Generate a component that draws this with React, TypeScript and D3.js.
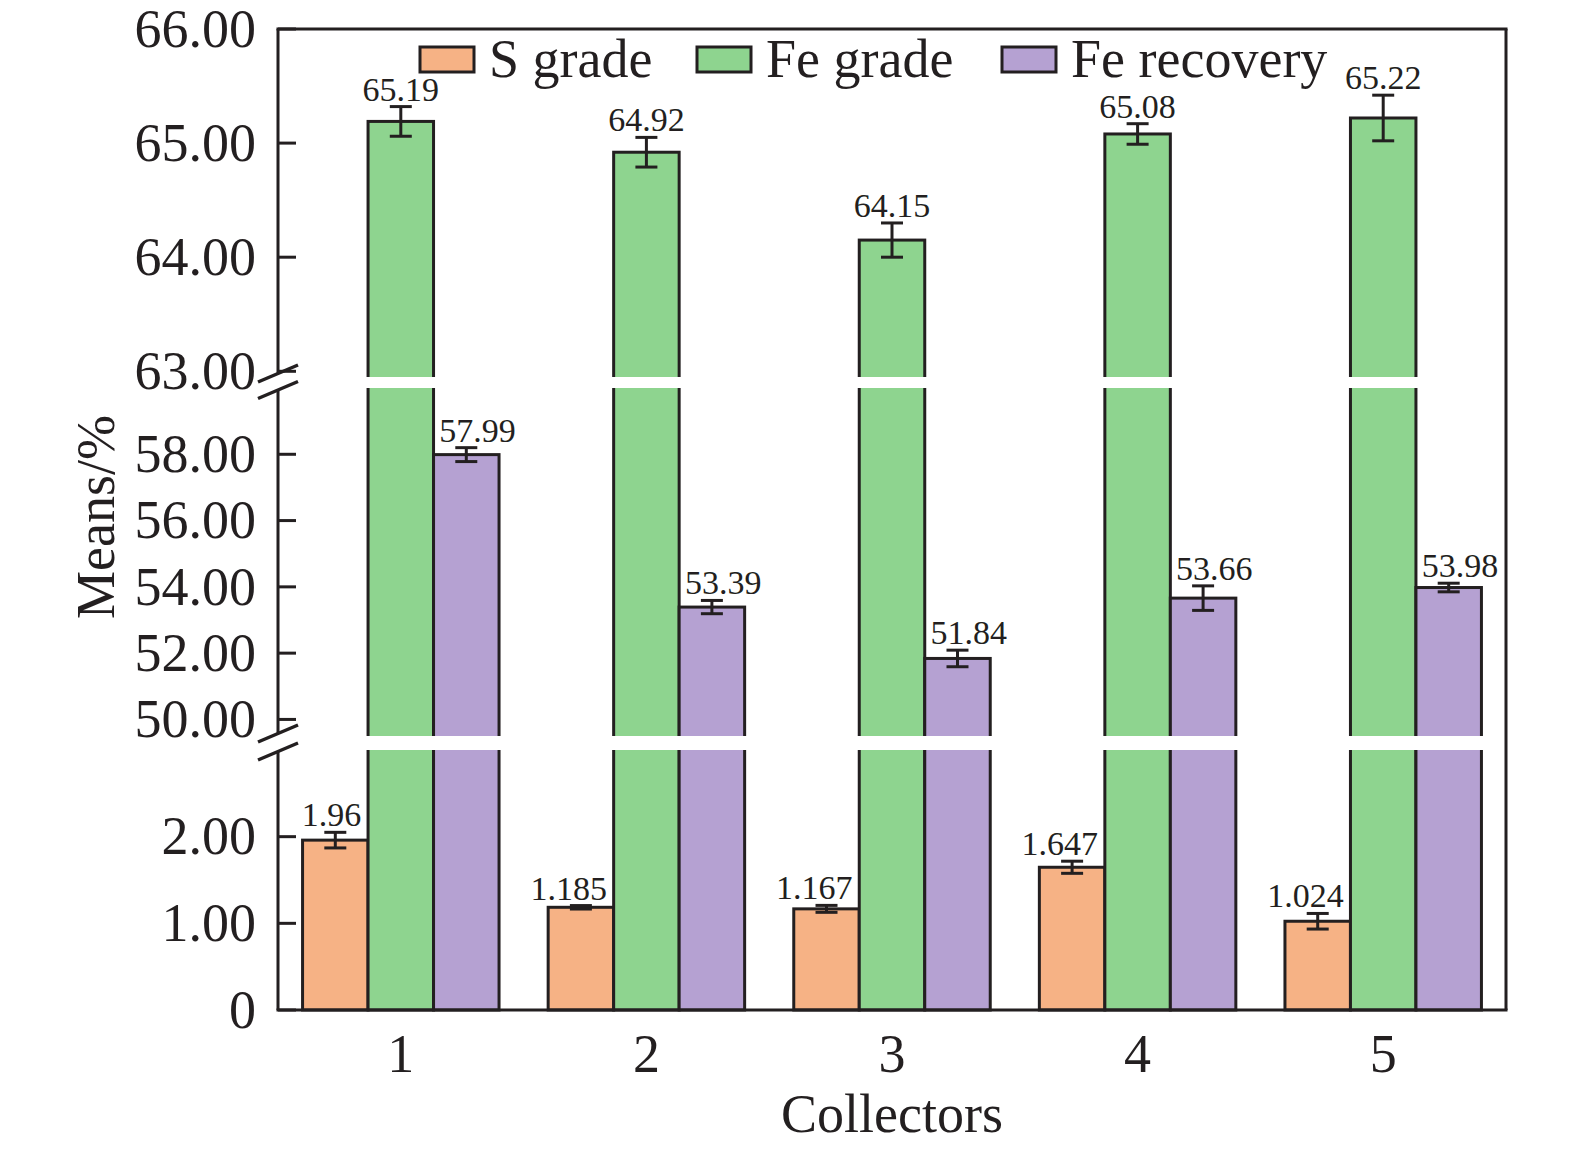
import { useEffect, useRef } from 'react';
import * as d3 from 'd3';

// data
const categories = ['1', '2', '3', '4', '5'];
const seriesNames = ['S grade', 'Fe grade', 'Fe recovery'];
const sGrade = [1.96, 1.185, 1.167, 1.647, 1.024];
const feGrade = [65.19, 64.92, 64.15, 65.08, 65.22];
const feRecovery = [57.99, 53.39, 51.84, 53.66, 53.98];
const sGradeErr = [0.09, 0.02, 0.04, 0.07, 0.09];
const feGradeErr = [0.13, 0.13, 0.15, 0.09, 0.2];
const feRecoveryErr = [0.21, 0.2, 0.25, 0.37, 0.13];
const lowTicks = [0, 1, 2];
const midTicks = [50, 52, 54, 56, 58];
const highTicks = [63, 64, 65, 66];
const colors = ['#F6B285', '#8ED48F', '#B5A1D2'];

const W = 1575;
const H = 1154;
const INK = '#231F20';
const FONT = '"Liberation Serif", "Times New Roman", serif';

const App: React.FC = () => {
  const ref = useRef<SVGSVGElement>(null);

  useEffect(() => {
    const left = 278, right = 1506, top = 29, bottom = 1010;

    // three stacked segments of the broken y axis
    const low = d3.scaleLinear().domain([0, 3]).range([bottom, 750]);
    const mid = d3.scaleLinear().domain([49.5, 60]).range([736, 388]);
    const high = d3.scaleLinear().domain([62.95, 66]).range([377, top]);
    const y = (v: number) => (v <= 3 ? low(v) : v <= 60 ? mid(v) : high(v));
    const gaps = [
      [750, 736],
      [388, 377],
    ];

    const x0 = d3.scaleBand().domain(categories).range([left, right]).paddingInner(0.2).paddingOuter(0.1);
    const x1 = d3.scaleBand().domain(seriesNames).range([0, x0.bandwidth()]);

    // labels: left series right-aligned, middle centred, right series left-aligned
    const series = [
      { name: seriesNames[0], values: sGrade, errs: sGradeErr, anchor: 'end', dx: 26 },
      { name: seriesNames[1], values: feGrade, errs: feGradeErr, anchor: 'middle', dx: 0 },
      { name: seriesNames[2], values: feRecovery, errs: feRecoveryErr, anchor: 'start', dx: -27 },
    ];

    const svg = d3.select(ref.current);
    svg.selectAll('*').remove();
    svg.append('rect').attr('width', W).attr('height', H).attr('fill', '#fff');

    const g = svg.append('g');

    // bars
    series.forEach((s, si) => {
      g.selectAll(`.bar${si}`)
        .data(s.values)
        .enter()
        .append('rect')
        .attr('x', (_, i) => x0(categories[i])! + x1(s.name)!)
        .attr('y', d => y(d))
        .attr('width', x1.bandwidth())
        .attr('height', d => bottom - y(d))
        .attr('fill', colors[si])
        .attr('stroke', INK)
        .attr('stroke-width', 3);
    });

    // white bands where the axis is broken
    gaps.forEach(([b, t]) => {
      g.append('rect')
        .attr('x', left + 2)
        .attr('y', t)
        .attr('width', right - left - 4)
        .attr('height', b - t)
        .attr('fill', '#fff');
    });

    // error bars and value labels
    series.forEach(s => {
      s.values.forEach((v, i) => {
        const cx = x0(categories[i])! + x1(s.name)! + x1.bandwidth() / 2;
        const e = s.errs[i];
        const yt = y(v + e);
        const yb = y(v - e);
        const eg = g.append('g').attr('stroke', INK).attr('stroke-width', 3);
        eg.append('line').attr('x1', cx).attr('x2', cx).attr('y1', yt).attr('y2', yb);
        eg.append('line').attr('x1', cx - 11).attr('x2', cx + 11).attr('y1', yt).attr('y2', yt);
        eg.append('line').attr('x1', cx - 11).attr('x2', cx + 11).attr('y1', yb).attr('y2', yb);
        g.append('text')
          .attr('x', cx + s.dx)
          .attr('y', yt - 6)
          .attr('text-anchor', s.anchor)
          .style('font-family', FONT)
          .style('font-size', '34px')
          .attr('fill', INK)
          .text(String(v));
      });
    });

    // frame
    const frame = g.append('g').attr('stroke', INK).attr('stroke-width', 3).attr('fill', 'none');
    frame.append('line').attr('x1', left - 1.5).attr('x2', right + 1.5).attr('y1', top).attr('y2', top);
    frame.append('line').attr('x1', left - 1.5).attr('x2', right + 1.5).attr('y1', bottom).attr('y2', bottom);
    frame.append('line').attr('x1', right).attr('x2', right).attr('y1', top).attr('y2', bottom);
    // left axis, interrupted at the breaks
    const breaks = [
      [gaps[1][1] - 3.5, gaps[1][0] + 2],
      [gaps[0][1] - 2.5, gaps[0][0] + 1.5],
    ];
    const axisSegs = [
      [top, breaks[0][0]],
      [breaks[0][1], breaks[1][0]],
      [breaks[1][1], bottom],
    ];
    axisSegs.forEach(([a, b]) => {
      frame.append('line').attr('x1', left).attr('x2', left).attr('y1', a).attr('y2', b);
    });
    breaks.forEach(pair => {
      pair.forEach(cy => {
        frame.append('line')
          .attr('x1', left - 20).attr('y1', cy + 8.5)
          .attr('x2', left + 20).attr('y2', cy - 8.5)
          .attr('stroke-width', 3.5);
      });
    });

    // y ticks and labels
    const ticks = [...lowTicks, ...midTicks, ...highTicks];
    ticks.forEach(t => {
      const ty = y(t);
      frame.append('line').attr('x1', left).attr('x2', left + 18).attr('y1', ty).attr('y2', ty);
      g.append('text')
        .attr('x', 256)
        .attr('y', ty)
        .attr('dy', '0.33em')
        .attr('text-anchor', 'end')
        .style('font-family', FONT)
        .style('font-size', '54px')
        .attr('fill', INK)
        .text(t === 0 ? '0' : t.toFixed(2));
    });

    // x category labels
    categories.forEach(c => {
      g.append('text')
        .attr('x', x0(c)! + x0.bandwidth() / 2)
        .attr('y', 1072)
        .attr('text-anchor', 'middle')
        .style('font-family', FONT)
        .style('font-size', '54px')
        .attr('fill', INK)
        .text(c);
    });

    // axis titles
    g.append('text')
      .attr('x', (left + right) / 2)
      .attr('y', 1132)
      .attr('text-anchor', 'middle')
      .style('font-family', FONT)
      .style('font-size', '54px')
      .attr('fill', INK)
      .text('Collectors');
    g.append('text')
      .attr('transform', 'translate(114, 517) rotate(-90)')
      .attr('text-anchor', 'middle')
      .style('font-family', FONT)
      .style('font-size', '54px')
      .attr('fill', INK)
      .text('Means/%');

    // legend
    const legendX = [420, 697, 1002];
    seriesNames.forEach((name, i) => {
      g.append('rect')
        .attr('x', legendX[i])
        .attr('y', 47)
        .attr('width', 54)
        .attr('height', 25)
        .attr('fill', colors[i])
        .attr('stroke', INK)
        .attr('stroke-width', 3);
      g.append('text')
        .attr('x', legendX[i] + 69)
        .attr('y', 77)
        .style('font-family', FONT)
        .style('font-size', '54px')
        .attr('fill', INK)
        .text(name);
    });
  }, []);

  return (
    <svg
      ref={ref}
      width={W}
      height={H}
      style={{ position: 'absolute', left: 0, top: 0 }}
    ></svg>
  );
};

export default App;
